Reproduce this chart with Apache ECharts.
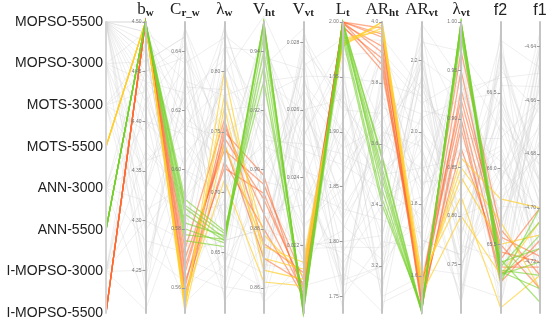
<!DOCTYPE html>
<html><head><meta charset="utf-8">
<script src="https://cdn.jsdelivr.net/npm/echarts@6/dist/echarts.min.js"></script>
<style>html,body{margin:0;padding:0;background:#fff}#c{width:550px;height:322px}</style>
</head><body><div id="c"></div>
<script>
// ID categories (top to bottom)
const ids = ['MOPSO-5500','MOPSO-3000','MOTS-3000','MOTS-5500','ANN-3000','ANN-5500','I-MOPSO-3000','I-MOPSO-5500'];
// dimension order: ID, b_w, C_r_w, λw, V_ht, V_vt, L_t, AR_ht, AR_vt, λvt, f2, f1
const dimMin = [null, 4.207, 0.5515, 0.600, 0.8515, 0.0200, 1.735, 3.046, 1.497, 0.700, 65.046, -4.739];
const dimMax = [null, 4.500, 0.6500, 0.841, 0.9500, 0.0286, 2.000, 4.000, 2.306, 1.000, 66.970, -4.631];
const tickDecimals = [0, 2, 2, 2, 2, 3, 2, 1, 1, 2, 1, 2];

const grayRows = [
 ['MOPSO-5500',4.48,0.630,0.780,0.930,0.0270,1.950,3.80,2.10,0.88,66.20,-4.660],
 ['MOPSO-5500',4.45,0.610,0.700,0.910,0.0250,1.880,3.50,1.90,0.80,65.80,-4.680],
 ['MOPSO-5500',4.42,0.640,0.660,0.880,0.0220,1.800,3.30,2.20,0.93,66.60,-4.650],
 ['MOPSO-5500',4.38,0.590,0.740,0.870,0.0280,1.920,3.70,1.70,0.76,66.00,-4.700],
 ['MOPSO-5500',4.50,0.620,0.820,0.940,0.0240,1.760,3.20,2.00,0.84,65.50,-4.640],
 ['MOPSO-5500',4.47,0.570,0.630,0.900,0.0260,1.840,3.90,1.80,0.72,66.80,-4.690],
 ['MOPSO-5500',4.33,0.648,0.760,0.860,0.0210,1.970,3.60,2.25,0.97,65.20,-4.670],
 ['MOPSO-5500',4.29,0.600,0.680,0.920,0.0235,1.780,3.40,1.95,0.78,66.40,-4.715],
 ['MOPSO-5500',4.44,0.580,0.800,0.890,0.0275,1.900,3.10,1.60,0.91,65.90,-4.635],
 ['MOPSO-5500',4.24,0.630,0.720,0.948,0.0225,1.860,3.75,2.05,0.82,66.10,-4.725],
 ['MOPSO-3000',4.41,0.560,0.650,0.865,0.0255,1.820,3.55,1.75,0.95,65.60,-4.655],
 ['MOPSO-3000',4.36,0.615,0.790,0.915,0.0205,1.940,3.25,2.15,0.74,66.70,-4.685],
 ['MOPSO-3000',4.46,0.645,0.610,0.875,0.0245,1.740,3.85,1.85,0.87,65.30,-4.645],
 ['MOPSO-3000',4.31,0.595,0.830,0.935,0.0284,1.870,3.45,2.28,0.79,66.30,-4.705],
 ['MOPSO-3000',4.49,0.575,0.710,0.855,0.0215,1.990,3.65,1.65,0.99,65.10,-4.675],
 ['MOTS-3000',4.39,0.635,0.670,0.905,0.0265,1.790,3.15,1.92,0.71,66.90,-4.735],
 ['MOTS-3000',4.26,0.605,0.770,0.885,0.0232,1.910,3.95,2.12,0.86,65.70,-4.660],
 ['MOTS-3000',4.43,0.565,0.620,0.925,0.0270,1.830,3.35,1.72,0.92,66.50,-4.695],
 ['MOTS-3000',4.35,0.625,0.810,0.895,0.0208,1.770,3.58,2.22,0.77,65.40,-4.640],
 ['MOTS-3000',4.47,0.585,0.690,0.870,0.0252,1.960,3.08,1.58,0.89,66.05,-4.710],
 ['ANN-3000',4.22,0.648,0.730,0.945,0.0242,1.850,3.72,2.02,0.75,65.85,-4.680],
 ['ANN-3000',4.32,0.555,0.640,0.860,0.0278,1.930,3.42,1.88,0.96,66.25,-4.720],
 ['ANN-3000',4.40,0.612,0.835,0.910,0.0218,1.810,3.62,2.18,0.73,65.15,-4.650],
 ['ANN-3000',4.28,0.572,0.660,0.880,0.0262,1.750,3.28,1.68,0.83,66.65,-4.665],
 ['ANN-3000',4.45,0.638,0.750,0.920,0.0228,1.890,3.88,2.08,0.94,65.55,-4.730],
 ['I-MOPSO-3000',4.37,0.592,0.615,0.902,0.0258,1.980,3.52,1.98,0.81,66.35,-4.690],
 ['I-MOPSO-3000',4.25,0.628,0.785,0.868,0.0212,1.840,3.18,2.26,0.90,65.08,-4.645],
 ['I-MOPSO-3000',4.48,0.558,0.695,0.938,0.0272,1.760,3.78,1.62,0.74,66.75,-4.700],
 ['I-MOPSO-3000',4.30,0.618,0.735,0.882,0.0238,1.950,3.38,1.82,0.98,65.65,-4.675],
 ['I-MOPSO-3000',4.42,0.582,0.805,0.912,0.0248,1.870,3.68,2.14,0.85,66.15,-4.715],
 ['MOPSO-5500',4.50,0.600,0.700,0.930,0.0260,1.930,3.50,2.00,0.80,66.00,-4.660],
 ['MOPSO-5500',4.49,0.615,0.745,0.896,0.0236,1.830,3.60,1.90,0.86,66.45,-4.690],
 ['MOPSO-5500',4.46,0.645,0.675,0.877,0.0268,1.900,3.30,2.20,0.76,65.75,-4.700],
 ['MOPSO-5500',4.50,0.568,0.820,0.918,0.0222,1.790,3.45,1.77,0.93,65.95,-4.670],
 ['MOPSO-5500',4.43,0.588,0.635,0.942,0.0252,1.970,3.90,2.10,0.78,66.55,-4.655],
 ['MOPSO-5500',4.47,0.622,0.712,0.908,0.0244,1.815,3.22,2.16,0.83,66.85,-4.648],
 ['MOPSO-5500',4.40,0.602,0.788,0.864,0.0266,1.885,3.66,1.84,0.96,65.35,-4.712],
 ['MOPSO-5500',4.34,0.584,0.652,0.928,0.0214,1.945,3.12,2.24,0.72,66.28,-4.684],
 ['MOPSO-5500',4.49,0.636,0.828,0.888,0.0276,1.755,3.82,1.66,0.88,65.72,-4.638],
 ['MOPSO-5500',4.27,0.562,0.702,0.946,0.0230,1.905,3.48,2.04,0.92,66.62,-4.728],
 ['MOPSO-3000',4.44,0.626,0.622,0.858,0.0259,1.862,3.92,1.94,0.75,65.92,-4.662],
 ['MOPSO-3000',4.23,0.598,0.768,0.922,0.0219,1.795,3.26,1.74,0.97,66.42,-4.698],
 ['MOTS-3000',4.45,0.642,0.742,0.874,0.0282,1.925,3.56,2.20,0.79,65.22,-4.652],
 ['MOTS-3000',4.30,0.576,0.838,0.904,0.0226,1.848,3.74,1.86,0.84,66.12,-4.722],
 ['ANN-3000',4.36,0.608,0.682,0.936,0.0249,1.772,3.05,2.06,0.90,65.48,-4.642],
 ['ANN-3000',4.48,0.556,0.758,0.866,0.0273,1.985,3.94,1.70,0.76,66.78,-4.692],
 ['I-MOPSO-3000',4.33,0.632,0.642,0.892,0.0216,1.902,3.36,2.30,0.94,65.62,-4.668],
 ['I-MOPSO-3000',4.21,0.590,0.798,0.952,0.0262,1.822,3.64,1.96,0.71,66.48,-4.708],
 ['I-MOPSO-3000',4.44,0.614,0.726,0.856,0.0241,1.765,3.20,1.80,0.87,65.98,-4.732]
];
const greenRows = [
 ['ANN-5500',4.50,0.587,0.662,0.950,0.0200,2.000,3.55,1.500,1.000,65.35,-4.705],
 ['ANN-5500',4.50,0.585,0.660,0.950,0.0201,1.995,3.50,1.505,0.995,65.30,-4.720],
 ['ANN-5500',4.50,0.582,0.664,0.948,0.0200,2.000,3.45,1.500,1.000,65.40,-4.735],
 ['ANN-5500',4.50,0.580,0.658,0.945,0.0202,1.990,3.42,1.510,0.990,65.28,-4.710],
 ['ANN-5500',4.50,0.578,0.661,0.940,0.0203,1.998,3.52,1.500,1.000,65.33,-4.725],
 ['ANN-5500',4.50,0.588,0.666,0.935,0.0201,1.993,3.48,1.502,0.997,65.32,-4.730],
 ['ANN-5500',4.50,0.576,0.655,0.950,0.0200,1.985,3.40,1.515,0.985,65.38,-4.715],
 ['ANN-5500',4.50,0.590,0.668,0.930,0.0204,2.000,3.56,1.505,1.000,65.25,-4.700]
];
const orangeRows = [
 ['I-MOPSO-5500',4.50,0.560,0.755,0.885,0.0206,2.000,3.98,1.550,0.950,65.45,-4.720],
 ['I-MOPSO-5500',4.50,0.565,0.745,0.890,0.0208,2.000,3.95,1.530,0.930,65.55,-4.718],
 ['I-MOPSO-5500',4.50,0.570,0.735,0.895,0.0210,1.998,3.92,1.570,0.910,65.35,-4.722],
 ['I-MOPSO-5500',4.50,0.558,0.725,0.880,0.0205,2.000,3.90,1.520,0.890,65.30,-4.715],
 ['I-MOPSO-5500',4.50,0.573,0.760,0.875,0.0212,1.995,3.88,1.560,0.970,65.60,-4.725],
 ['I-MOPSO-5500',4.50,0.562,0.720,0.892,0.0207,2.000,3.86,1.540,0.870,65.40,-4.700],
 ['I-MOPSO-5500',4.50,0.567,0.740,0.870,0.0209,1.997,3.84,1.580,0.920,65.50,-4.730],
 ['I-MOPSO-5500',4.50,0.555,0.750,0.898,0.0204,2.000,3.96,1.510,0.900,65.25,-4.712]
];
const yellowRows = [
 ['MOTS-5500',4.50,0.553,0.800,0.870,0.0213,1.980,4.00,1.560,0.860,65.80,-4.700],
 ['MOTS-5500',4.50,0.555,0.770,0.866,0.0210,1.982,3.99,1.580,0.840,65.50,-4.710],
 ['MOTS-5500',4.50,0.552,0.740,0.874,0.0215,1.978,4.00,1.600,0.820,65.08,-4.725],
 ['MOTS-5500',4.50,0.557,0.710,0.862,0.0208,1.985,3.97,1.550,0.800,65.30,-4.705],
 ['MOTS-5500',4.50,0.554,0.780,0.878,0.0211,1.980,3.98,1.570,0.850,65.65,-4.730]
];

const serif = 'Liberation Serif';
const sans = 'Liberation Sans';
const names = [
  'ID', '{m|b}{s|w}', '{m|C}{s|r_w}', '{m|λ}{s|w}', '{m|V}{s|ht}', '{m|V}{s|vt}',
  '{m|L}{s|t}', '{m|AR}{s|ht}', '{m|AR}{s|vt}', '{m|λ}{s|vt}', 'f2', 'f1'
];
const maxShown = [false,true,false,false,false,false,true,true,false,true,false,false];
const splits = [0,5,5,5,5,4,5,5,4,6,4,5];

const axes = names.map((n, i) => {
  if (i === 0) {
    return {
      dim: 0, type: 'category', data: ids, inverse: true, boundaryGap: false,
      name: n, nameGap: 3,
      nameTextStyle: {fontFamily: sans, fontSize: 15, color: '#222'},
      axisLine: {lineStyle: {color: '#d4d4d4', width: 2}},
      axisTick: {show: false},
      axisLabel: {fontFamily: sans, fontSize: 14, color: '#222', margin: -3, align: 'right'}
    };
  }
  const d = tickDecimals[i];
  return {
    dim: i, type: 'value', min: dimMin[i], max: dimMax[i], splitNumber: splits[i],
    name: n, nameGap: 3,
    nameTextStyle: {
      fontFamily: (n === 'f2' || n === 'f1') ? sans : serif, fontSize: 16, color: '#222',
      rich: {m: {fontFamily: serif, fontSize: 17, color: '#222'},
             s: {fontFamily: serif, fontSize: 11, color: '#222', fontWeight: 'bold', padding: [8, 0, 0, 0]}}
    },
    axisLine: {lineStyle: {color: '#c4c4c4', width: 2}},
    axisTick: {length: -3, lineStyle: {color: '#999'}},
    axisLabel: {fontFamily: sans, fontSize: 5, color: '#777', margin: -4, align: 'right',
      showMinLabel: false, showMaxLabel: maxShown[i],
      formatter: v => v.toFixed(d)}
  };
});

const chart = echarts.init(document.getElementById('c'));
chart.setOption({
  animation: false,
  parallel: {left: 106, right: 10, top: 22, bottom: 9, layout: 'horizontal',
    parallelAxisDefault: {splitLine: {show: false}}},
  parallelAxis: axes,
  series: [
    {type: 'parallel', data: grayRows, lineStyle: {color: '#cccccc', width: 0.8, opacity: 0.4}, silent: true},
    {type: 'parallel', data: orangeRows, lineStyle: {color: '#ff6a30', width: 1.3, opacity: 0.55}, silent: true},
    {type: 'parallel', data: yellowRows, lineStyle: {color: '#ffcf2e', width: 1.2, opacity: 0.7}, silent: true},
    {type: 'parallel', data: greenRows, lineStyle: {color: '#76d02c', width: 1.3, opacity: 0.6}, silent: true}
  ]
});
</script></body></html>
